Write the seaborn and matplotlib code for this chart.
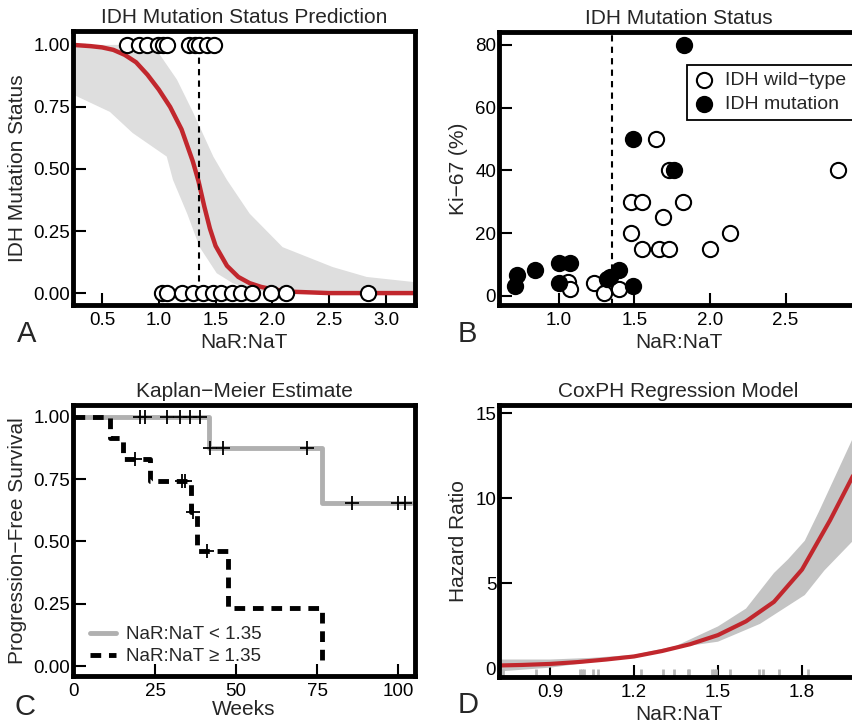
import numpy as np
import matplotlib
matplotlib.use("Agg")
import matplotlib.pyplot as plt
from matplotlib.lines import Line2D
import seaborn as sns

# ---- Panel A: logistic prediction of IDH status ----
a_mut_x = [0.72, 0.83, 0.90, 0.99, 1.04, 1.07, 1.27, 1.32, 1.35, 1.42, 1.49]
a_wt_x = [1.03, 1.07, 1.20, 1.30, 1.39, 1.48, 1.55, 1.64, 1.72, 1.82, 1.99, 2.12, 2.84]
a_fit_x = [0.245, 0.4, 0.5, 0.6, 0.7, 0.8, 0.9, 1.0, 1.1, 1.2, 1.3, 1.35, 1.4, 1.45,
           1.5, 1.6, 1.7, 1.8, 1.9, 2.0, 2.2, 2.5, 3.255]
a_fit_y = [1.0, 0.995, 0.99, 0.98, 0.96, 0.93, 0.88, 0.82, 0.75, 0.66, 0.53, 0.45, 0.35,
           0.26, 0.19, 0.11, 0.065, 0.04, 0.025, 0.015, 0.005, 0.0, 0.0]
a_hi_x = [0.245, 0.95, 1.04, 1.16, 1.30, 1.48, 1.60, 1.80, 2.09, 2.53, 2.83, 3.255]
a_hi_y = [1.00, 1.00, 0.94, 0.86, 0.73, 0.55, 0.456, 0.32, 0.185, 0.105, 0.065, 0.044]
a_lo_x = [0.245, 0.57, 0.77, 1.07, 1.125, 1.25, 1.36, 1.51, 1.65, 1.83, 2.10, 3.255]
a_lo_y = [0.80, 0.73, 0.645, 0.55, 0.456, 0.32, 0.185, 0.08, 0.04, 0.012, 0.0, 0.0]
cutoff = 1.35

# ---- Panel B: Ki-67 vs NaR:NaT ----
b_wt_x = [1.06, 1.07, 1.23, 1.30, 1.40, 1.55, 1.64, 1.73, 2.85, 1.48, 1.55, 1.82,
          1.69, 1.48, 2.13, 1.66, 1.73, 2.00]
b_wt_y = [4.5, 2.2, 4, 1, 2.2, 15, 50, 40, 40, 30, 30, 30, 25, 20, 20, 15, 15, 15]
b_mut_x = [0.72, 0.71, 0.84, 1.00, 1.07, 1.00, 1.32, 1.34, 1.40, 1.49, 1.49, 1.76, 1.83]
b_mut_y = [6.7, 3, 8.3, 10.5, 10.5, 4, 5.4, 6, 8.3, 3, 50, 40, 80]

# ---- Panel C: Kaplan-Meier ----
lo_t = [0, 41.5, 76.5, 104]
lo_s = [1.0, 0.875, 0.656, 0.656]
lo_cens_t = [20.4, 21.9, 28.7, 32.7, 35.8, 38.9, 42.0, 46.0, 71.9, 85.8, 100.0, 102.2]
lo_cens_s = [1, 1, 1, 1, 1, 1, 0.875, 0.875, 0.875, 0.656, 0.656, 0.656]
hi_t = [0, 11.1, 15.1, 23.5, 36.0, 38.0, 47.5, 76.5]
hi_s = [1.0, 0.917, 0.833, 0.741, 0.617, 0.463, 0.231, 0.0]
hi_cens_t = [18.8, 33.3, 34.3, 36.6, 41.0]
hi_cens_s = [0.833, 0.741, 0.741, 0.617, 0.463]

# ---- Panel D: CoxPH hazard ratio ----
d_x = [0.72, 0.80, 0.90, 1.00, 1.10, 1.20, 1.30, 1.40, 1.50, 1.60, 1.70, 1.80, 1.90, 2.00]
d_hr = [0.15, 0.18, 0.24, 0.35, 0.50, 0.68, 1.00, 1.40, 1.94, 2.75, 3.90, 5.80, 8.70, 11.9]
d_hi_x = [0.72, 0.90, 1.05, 1.20, 1.35, 1.50, 1.60, 1.70, 1.75, 1.81, 1.86, 2.00]
d_hi_y = [0.50, 0.50, 0.60, 0.78, 1.30, 2.45, 3.50, 5.60, 6.40, 7.50, 9.20, 14.2]
d_lo_x = [0.72, 0.90, 1.05, 1.20, 1.35, 1.50, 1.65, 1.81, 1.88, 2.00]
d_lo_y = [-0.20, 0.02, 0.35, 0.60, 1.20, 1.55, 2.60, 4.30, 5.75, 7.80]
d_rug = [0.733, 0.85, 1.008, 1.014, 1.02, 1.052, 1.07, 1.225, 1.302, 1.344, 1.392,
         1.397, 1.48, 1.487, 1.493, 1.543, 1.648, 1.662, 1.719, 1.82]

RED = "#c1272d"

sns.set_style("white")
plt.rcParams["font.family"] = ["Liberation Sans", "DejaVu Sans"]

W, H = 852, 724
fig = plt.figure(figsize=(W / 100, H / 100), dpi=100)


def box(l, t, r, b):
    return [l / W, 1 - b / H, (r - l) / W, (b - t) / H]


def style(ax):
    for s in ax.spines.values():
        s.set_visible(True)
        s.set_linewidth(3.5)
        s.set_color("black")
    ax.tick_params(direction="in", length=9, width=1.5, labelsize=13.5, colors="black",
                   bottom=True, left=True, top=False, right=False)
    ax.tick_params(axis="x", pad=5)
    ax.tick_params(axis="y", pad=2)
    ax.grid(False)


axA = fig.add_axes(box(73, 31, 415, 305))
axB = fig.add_axes(box(499, 32, 858, 305))
axC = fig.add_axes(box(73, 405, 415, 676))
axD = fig.add_axes(box(499, 405, 858, 677))

# ---------- A ----------
axA.fill(np.r_[a_hi_x, a_lo_x[::-1]], np.r_[a_hi_y, a_lo_y[::-1]], color="#dedede", lw=0)
sns.lineplot(x=a_fit_x, y=a_fit_y, ax=axA, color=RED, lw=3.2, sort=False, estimator=None)
axA.vlines(cutoff, 0, 1, colors="black", linestyles=(0, (3, 2.5)), lw=1.5)
sns.scatterplot(x=a_mut_x, y=[1] * len(a_mut_x), ax=axA, s=120, facecolor="white",
                edgecolor="black", linewidth=1.5, zorder=5, clip_on=False)
sns.scatterplot(x=a_wt_x, y=[0] * len(a_wt_x), ax=axA, s=120, facecolor="white",
                edgecolor="black", linewidth=1.5, zorder=5, clip_on=False)
axA.set_xlim(0.245, 3.255)
axA.set_ylim(-0.048, 1.056)
axA.set_xticks([0.5, 1.0, 1.5, 2.0, 2.5, 3.0])
axA.set_yticks([0, 0.25, 0.5, 0.75, 1.0])
axA.set_yticklabels(["0.00", "0.25", "0.50", "0.75", "1.00"])
axA.set_title("IDH Mutation Status Prediction", fontsize=15, pad=6)
axA.set_xlabel("NaR:NaT", fontsize=15, labelpad=3)
axA.set_ylabel("IDH Mutation Status", fontsize=15, labelpad=5)
style(axA)

# ---------- B ----------
axB.axvline(cutoff, color="black", linestyle=(0, (3, 2.5)), lw=1.5)
sns.scatterplot(x=b_wt_x, y=b_wt_y, ax=axB, s=120, facecolor="white", edgecolor="black",
                linewidth=1.5, zorder=5, label="IDH wild\u2212type")
sns.scatterplot(x=b_mut_x, y=b_mut_y, ax=axB, s=120, color="black", edgecolor="black",
                linewidth=1.5, zorder=5, label="IDH mutation")
axB.set_xlim(0.603, 2.98)
axB.set_ylim(-2.9, 84.1)
axB.set_xticks([1.0, 1.5, 2.0, 2.5])
axB.set_yticks([0, 20, 40, 60, 80])
axB.set_title("IDH Mutation Status", fontsize=15, pad=6)
axB.set_xlabel("NaR:NaT", fontsize=15, labelpad=3)
axB.set_ylabel("Ki\u221267 (%)", fontsize=15, labelpad=5)
leg = axB.legend(loc="upper left", bbox_to_anchor=(0.524, 0.879), borderaxespad=0,
                 fontsize=14, frameon=True, fancybox=False, edgecolor="black",
                 framealpha=1, handlelength=1.0, handletextpad=0.6, labelspacing=0.3,
                 borderpad=0.35)
leg.get_frame().set_linewidth(1.3)
style(axB)

# ---------- C ----------
sns.lineplot(x=lo_t, y=lo_s, ax=axC, color="#b0b0b0", lw=3.5, drawstyle="steps-post",
             sort=False, estimator=None)
sns.lineplot(x=hi_t, y=hi_s, ax=axC, color="black", lw=3.5, drawstyle="steps-post",
             sort=False, estimator=None, linestyle=(0, (2.2, 1.6)))
sns.scatterplot(x=lo_cens_t, y=lo_cens_s, ax=axC, marker="+", s=110, color="black",
                linewidth=1.3, zorder=5)
sns.scatterplot(x=hi_cens_t, y=hi_cens_s, ax=axC, marker="+", s=110, color="black",
                linewidth=1.3, zorder=5)
axC.set_xlim(-0.3, 105.2)
axC.set_ylim(-0.04, 1.048)
axC.set_xticks([0, 25, 50, 75, 100])
axC.set_yticks([0, 0.25, 0.5, 0.75, 1.0])
axC.set_yticklabels(["0.00", "0.25", "0.50", "0.75", "1.00"])
axC.set_title("Kaplan\u2212Meier Estimate", fontsize=15, pad=6)
axC.set_xlabel("Weeks", fontsize=15, labelpad=0)
axC.set_ylabel("Progression\u2212Free Survival", fontsize=15, labelpad=5)
handles = [Line2D([], [], color="#b0b0b0", lw=3.5),
           Line2D([], [], color="black", lw=3.5, linestyle=(0, (2.2, 1.6)))]
axC.legend(handles, ["NaR:NaT < 1.35", "NaR:NaT \u2265 1.35"], loc="lower left",
           bbox_to_anchor=(0.05, 0.04), borderaxespad=0, borderpad=0, frameon=False,
           fontsize=13.5, handlelength=1.4, handletextpad=0.5, labelspacing=0.25)
style(axC)

# ---------- D ----------
axD.fill(np.r_[d_hi_x, d_lo_x[::-1]], np.r_[d_hi_y, d_lo_y[::-1]], color="#c4c4c4", lw=0)
sns.lineplot(x=d_x, y=d_hr, ax=axD, color=RED, lw=3, sort=False, estimator=None)
sns.rugplot(x=d_rug, ax=axD, height=0.03, color="#b8b8b8", linewidth=2)
axD.set_xlim(0.718, 2.0)
axD.set_ylim(-0.53, 15.5)
axD.set_xticks([0.9, 1.2, 1.5, 1.8])
axD.set_yticks([0, 5, 10, 15])
axD.set_title("CoxPH Regression Model", fontsize=15, pad=6)
axD.set_xlabel("NaR:NaT", fontsize=15, labelpad=3)
axD.set_ylabel("Hazard Ratio", fontsize=15, labelpad=5)
style(axD)

# panel letters
for letter, x, y in [("A", 17, 342), ("B", 458, 342), ("C", 15, 715), ("D", 458, 713)]:
    fig.text(x / W, 1 - y / H, letter, fontsize=21, va="baseline", ha="left")

fig.savefig("out.png", dpi=100)
